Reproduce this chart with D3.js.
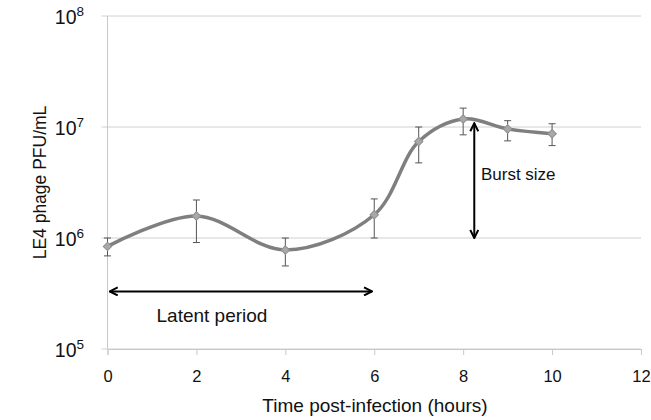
<!DOCTYPE html>
<html>
<head>
<meta charset="utf-8">
<script src="https://cdn.jsdelivr.net/npm/d3@7"></script>
<style>
  body { margin: 0; background: #fff; }
  text { font-family: "Liberation Sans", Arial, sans-serif; }
</style>
</head>
<body>
<script>
// data
var hours = [0, 2, 4, 6, 7, 8, 9, 10];
var pfu = [8.4e5, 1.58e6, 7.8e5, 1.62e6, 7.4e6, 1.18e7, 9.6e6, 8.7e6];
var errHigh = [1.0e6, 2.2e6, 1.0e6, 2.25e6, 1.0e7, 1.48e7, 1.14e7, 1.07e7];
var errLow = [6.9e5, 9.1e5, 5.6e5, 1.0e6, 4.75e6, 8.5e6, 7.5e6, 6.8e6];
var xTicks = [0, 2, 4, 6, 8, 10, 12];
var yTicks = [1e5, 1e6, 1e7, 1e8];
var yExp = [5, 6, 7, 8];

var svgWidth = 651;
var svgHeight = 420;

var margin = { top: 16, right: 10, bottom: 71, left: 107.5 };

var svg = d3.select("body")
  .append("svg")
  .attr("width", svgWidth)
  .attr("height", svgHeight);

var xScale = d3.scaleLinear()
  .domain([0, 12])
  .range([margin.left, svgWidth - margin.right]);

var yScale = d3.scaleLog()
  .domain([1e5, 1e8])
  .range([svgHeight - margin.bottom, margin.top]);

// gridlines
svg.append("g")
  .selectAll("line")
  .data(yTicks)
  .enter()
  .append("line")
  .attr("x1", xScale(0) - 6)
  .attr("x2", xScale(12))
  .attr("y1", d => yScale(d))
  .attr("y2", d => yScale(d))
  .attr("stroke", "#d0d0d0")
  .attr("stroke-width", 1);

// y axis line
svg.append("line")
  .attr("x1", xScale(0))
  .attr("x2", xScale(0))
  .attr("y1", yScale(1e8))
  .attr("y2", yScale(1e5))
  .attr("stroke", "#c8c8c8");

// x axis
var xAxis = d3.axisBottom(xScale)
  .tickValues(xTicks)
  .tickSize(6)
  .tickPadding(15);

var gx = svg.append("g")
  .attr("transform", `translate(0, ${yScale(1e5)})`)
  .call(xAxis);
gx.select(".domain").attr("stroke", "#c8c8c8");
gx.selectAll(".tick line").attr("stroke", "#c8c8c8");
gx.selectAll(".tick text")
  .attr("font-size", "16.5px")
  .attr("fill", "#111")
  .style("font-family", "Liberation Sans, Arial, sans-serif");

// y tick labels with superscripts
var yLab = svg.append("g")
  .selectAll("text")
  .data(yTicks)
  .enter()
  .append("text")
  .attr("x", 84)
  .attr("y", d => yScale(d) + 8)
  .attr("text-anchor", "end")
  .attr("font-size", "19.5px")
  .attr("fill", "#111");
yLab.append("tspan").text("10");
yLab.append("tspan")
  .attr("dy", -8.5)
  .attr("font-size", "13.5px")
  .text((d, i) => yExp[i]);

// axis titles
svg.append("text")
  .attr("transform", `translate(46, ${(yScale(1e5) + yScale(1e8)) / 2}) rotate(-90)`)
  .attr("text-anchor", "middle")
  .attr("font-size", "17.5px")
  .attr("fill", "#111")
  .text("LE4 phage PFU/mL");

svg.append("text")
  .attr("x", 375)
  .attr("y", 412)
  .attr("text-anchor", "middle")
  .attr("font-size", "19px")
  .attr("fill", "#111")
  .text("Time post-infection (hours)");

// error bars
var eb = svg.append("g")
  .attr("stroke", "#555")
  .attr("stroke-width", 1);
eb.selectAll(".bar")
  .data(hours)
  .enter()
  .append("line")
  .attr("x1", d => xScale(d))
  .attr("x2", d => xScale(d))
  .attr("y1", (d, i) => yScale(errHigh[i]))
  .attr("y2", (d, i) => yScale(errLow[i]));
eb.selectAll(".capHi")
  .data(hours)
  .enter()
  .append("line")
  .attr("x1", d => xScale(d) - 3.5)
  .attr("x2", d => xScale(d) + 3.5)
  .attr("y1", (d, i) => yScale(errHigh[i]))
  .attr("y2", (d, i) => yScale(errHigh[i]));
eb.selectAll(".capLo")
  .data(hours)
  .enter()
  .append("line")
  .attr("x1", d => xScale(d) - 3.5)
  .attr("x2", d => xScale(d) + 3.5)
  .attr("y1", (d, i) => yScale(errLow[i]))
  .attr("y2", (d, i) => yScale(errLow[i]));

// smoothed line
var line = d3.line()
  .x(d => xScale(d[0]))
  .y(d => yScale(d[1]))
  .curve(d3.curveCatmullRom.alpha(0.5));

svg.append("path")
  .datum(hours.map((h, i) => [h, pfu[i]]))
  .attr("d", line)
  .attr("fill", "none")
  .attr("stroke", "#7f7f7f")
  .attr("stroke-width", 3.5);

// diamond markers
svg.selectAll(".pt")
  .data(hours)
  .enter()
  .append("path")
  .attr("d", d3.symbol().type(d3.symbolSquare).size(36))
  .attr("transform", (d, i) => `translate(${xScale(d)}, ${yScale(pfu[i])}) rotate(45)`)
  .attr("fill", "#a8a8a8")
  .attr("stroke", "#909090")
  .attr("stroke-width", 1);

// arrowheads
var defs = svg.append("defs");
defs.append("marker")
  .attr("id", "head")
  .attr("viewBox", "0 0 10 10")
  .attr("refX", 9)
  .attr("refY", 5)
  .attr("markerWidth", 10)
  .attr("markerHeight", 10)
  .attr("markerUnits", "userSpaceOnUse")
  .attr("orient", "auto-start-reverse")
  .append("path")
  .attr("d", "M1,1 L9,5 L1,9")
  .attr("fill", "none")
  .attr("stroke", "#000")
  .attr("stroke-width", 2);

// latent period annotation
svg.append("line")
  .attr("x1", xScale(0.05))
  .attr("x2", xScale(5.95))
  .attr("y1", yScale(3.3e5))
  .attr("y2", yScale(3.3e5))
  .attr("stroke", "#000")
  .attr("stroke-width", 2)
  .attr("marker-start", "url(#head)")
  .attr("marker-end", "url(#head)");

svg.append("text")
  .attr("x", xScale(2.35))
  .attr("y", yScale(1.75e5))
  .attr("text-anchor", "middle")
  .attr("font-size", "19px")
  .attr("fill", "#111")
  .text("Latent period");

// burst size annotation
svg.append("line")
  .attr("x1", xScale(8.25))
  .attr("x2", xScale(8.25))
  .attr("y1", yScale(1.08e7))
  .attr("y2", yScale(1.0e6))
  .attr("stroke", "#000")
  .attr("stroke-width", 2)
  .attr("marker-start", "url(#head)")
  .attr("marker-end", "url(#head)");

svg.append("text")
  .attr("x", xScale(8.4))
  .attr("y", yScale(3.3e6))
  .attr("font-size", "17px")
  .attr("fill", "#111")
  .text("Burst size");
</script>
</body>
</html>
